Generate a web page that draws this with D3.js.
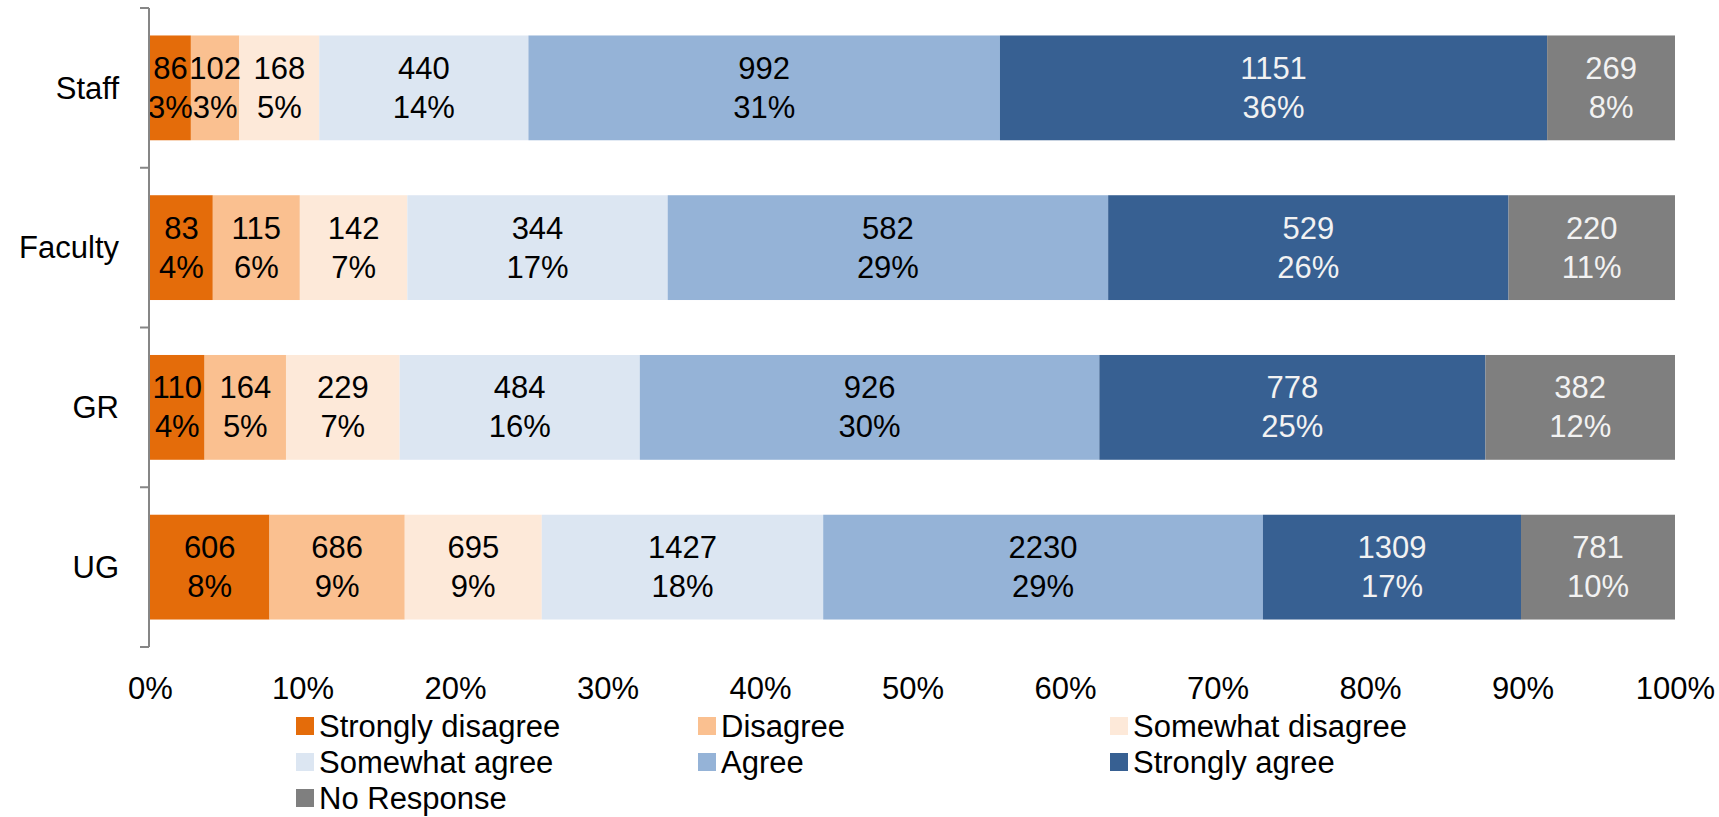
<!DOCTYPE html>
<html>
<head>
<meta charset="utf-8">
<script src="https://cdn.jsdelivr.net/npm/d3@7"></script>
<style>
  html, body { margin: 0; padding: 0; background: #ffffff; }
  svg { display: block; }
  text { font-family: "Liberation Sans", Arial, Helvetica, sans-serif; }
</style>
</head>
<body>
<svg id="chart" width="1719" height="817"></svg>
<script>
// ---- Data ----
const categories = ["Staff", "Faculty", "GR", "UG"];
const seriesNames = ["Strongly disagree", "Disagree", "Somewhat disagree", "Somewhat agree", "Agree", "Strongly agree", "No Response"];
const stronglyDisagree = [86, 83, 110, 606];
const disagree         = [102, 115, 164, 686];
const somewhatDisagree = [168, 142, 229, 695];
const somewhatAgree    = [440, 344, 484, 1427];
const agree            = [992, 582, 926, 2230];
const stronglyAgree    = [1151, 529, 778, 1309];
const noResponse       = [269, 220, 382, 781];
const xTickValues = [0, 0.1, 0.2, 0.3, 0.4, 0.5, 0.6, 0.7, 0.8, 0.9, 1.0];

const seriesValues = [stronglyDisagree, disagree, somewhatDisagree, somewhatAgree, agree, stronglyAgree, noResponse];
const colors = ["#E46C0A", "#FAC090", "#FDE9D9", "#DCE6F2", "#95B3D7", "#376092", "#7F7F7F"];
const labelColors = ["#000", "#000", "#000", "#000", "#000", "#f2f2f2", "#f2f2f2"];

// build table of rows
const rows = categories.map((c, i) => {
  const r = { cat: c };
  seriesNames.forEach((s, k) => r[s] = seriesValues[k][i]);
  r.total = d3.sum(seriesValues, v => v[i]);
  return r;
});

const svg = d3.select("#chart");
const x = d3.scaleLinear().domain([0, 1]).range([150, 1675]);
const y = d3.scaleBand().domain(categories).range([8, 647]).paddingInner(0.344).paddingOuter(0.172);

const stack = d3.stack().keys(seriesNames).offset(d3.stackOffsetExpand);
const stacked = stack(rows);

const fontSize = 31;
const pct = d3.format(".0%");

const groups = svg.append("g").selectAll("g")
  .data(stacked).join("g")
  .attr("fill", (d, i) => colors[i]);

groups.selectAll("rect")
  .data(d => d.map(p => ({ p, key: d.key })))
  .join("rect")
  .attr("x", d => x(d.p[0]))
  .attr("width", d => x(d.p[1]) - x(d.p[0]))
  .attr("y", d => y(d.p.data.cat))
  .attr("height", y.bandwidth());

// labels
stacked.forEach((layer, k) => {
  const g = svg.append("g");
  layer.forEach(p => {
    const cx = (x(p[0]) + x(p[1])) / 2;
    const cy = y(p.data.cat) + y.bandwidth() / 2;
    const v = p.data[layer.key];
    const t = g.append("text")
      .attr("text-anchor", "middle")
      .attr("font-size", fontSize)
      .attr("fill", labelColors[k]);
    t.append("tspan").attr("x", cx).attr("y", cy - 9).text(v);
    t.append("tspan").attr("x", cx).attr("y", cy + 30).text(pct(v / p.data.total));
  });
});

// y axis
const axisX = 149;
const yAxisG = svg.append("g");
yAxisG.append("line")
  .attr("x1", axisX).attr("x2", axisX)
  .attr("y1", y.range()[0]).attr("y2", y.range()[1])
  .attr("stroke", "#868686").attr("stroke-width", 2);
const boundaries = categories.map(c => y(c) - y.step() * y.paddingInner() / 2);
boundaries.push(y.range()[1]);
boundaries[0] = y.range()[0];
yAxisG.selectAll("line.tick").data(boundaries).join("line")
  .attr("class", "tick")
  .attr("x1", axisX - 9).attr("x2", axisX)
  .attr("y1", d => d).attr("y2", d => d)
  .attr("stroke", "#868686").attr("stroke-width", 2);
yAxisG.selectAll("text").data(categories).join("text")
  .attr("x", 119)
  .attr("y", d => y(d) + y.bandwidth() / 2)
  .attr("dy", "0.35em")
  .attr("text-anchor", "end")
  .attr("font-size", fontSize)
  .attr("fill", "#000")
  .text(d => d);

// x axis labels
const xAxis = d3.axisBottom(x).tickValues(xTickValues).tickFormat(d3.format(".0%")).tickSize(0).tickPadding(0);
const xg = svg.append("g").attr("transform", "translate(0,688)").call(xAxis);
xg.select(".domain").remove();
xg.selectAll("text")
  .attr("font-size", fontSize)
  .attr("font-family", "Liberation Sans, Arial, sans-serif")
  .attr("fill", "#000")
  .attr("dy", "0.35em")
  .attr("y", 0);

// legend
const colX = [296, 698, 1110], rowH = 36, legendY0 = 726;
const lg = svg.append("g");
seriesNames.forEach((s, i) => {
  const col = i % 3, row = Math.floor(i / 3);
  const lx = colX[col];
  const ly = legendY0 + row * rowH;
  lg.append("rect").attr("x", lx).attr("y", ly - 9).attr("width", 18).attr("height", 18).attr("fill", colors[i]);
  lg.append("text").attr("x", lx + 23).attr("y", ly).attr("dy", "0.35em")
    .attr("font-size", fontSize).attr("fill", "#000").text(s);
});
</script>
</body>
</html>
